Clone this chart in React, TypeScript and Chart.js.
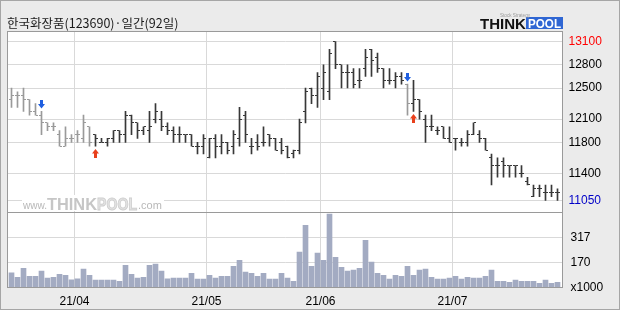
import React, { useEffect, useRef } from "react";
import { Chart, registerables } from "chart.js";

Chart.register(...registerables);

const TITLE = "한국화장품(123690)·일간(92일)";

const dates = [
  "21/03/17", "21/03/18", "21/03/19", "21/03/22", "21/03/23", "21/03/24", "21/03/25", "21/03/26", "21/03/29", "21/03/30",
  "21/03/31", "21/04/01", "21/04/02", "21/04/05", "21/04/06", "21/04/07", "21/04/08", "21/04/09", "21/04/12", "21/04/13",
  "21/04/14", "21/04/15", "21/04/16", "21/04/19", "21/04/20", "21/04/21", "21/04/22", "21/04/23", "21/04/26", "21/04/27",
  "21/04/28", "21/04/29", "21/04/30", "21/05/03", "21/05/04", "21/05/06", "21/05/07", "21/05/10", "21/05/11", "21/05/12",
  "21/05/13", "21/05/14", "21/05/17", "21/05/18", "21/05/20", "21/05/21", "21/05/24", "21/05/25", "21/05/26", "21/05/27",
  "21/05/28", "21/05/31", "21/06/01", "21/06/02", "21/06/03", "21/06/04", "21/06/07", "21/06/08", "21/06/09", "21/06/10",
  "21/06/11", "21/06/14", "21/06/15", "21/06/16", "21/06/17", "21/06/18", "21/06/21", "21/06/22", "21/06/23", "21/06/24",
  "21/06/25", "21/06/28", "21/06/29", "21/06/30", "21/07/01", "21/07/02", "21/07/05", "21/07/06", "21/07/07", "21/07/08",
  "21/07/09", "21/07/12", "21/07/13", "21/07/14", "21/07/15", "21/07/16", "21/07/19", "21/07/20", "21/07/21", "21/07/22",
  "21/07/23", "21/07/26",
];

const opens = [
  12350, 12400, 12400, 12350, 12200, 12150, 12050, 12000, 11900, 11750,
  11850, 11900, 11850, 12000, 11900, 11800, 11800, 11850, 11950, 11900,
  12150, 12050, 11950, 11950, 12100, 12100, 12000, 11950, 11900, 11900,
  11900, 11750, 11750, 11600, 11850, 11750, 11800, 11750, 11850, 12150,
  11750, 11800, 11800, 11900, 11850, 11800, 11750, 11650, 11700, 12200,
  12500, 12400, 12500, 12450, 13100, 12800, 12700, 12700, 12600, 12750,
  13000, 12900, 12750, 12600, 12600, 12650, 12550, 12300, 12350, 12100,
  12000, 11950, 12000, 11850, 11850, 11800, 11800, 11900, 11900, 11850,
  11600, 11500, 11550, 11500, 11500, 11400, 11300, 11100, 11200, 11150,
  11150, 11150,
];

const highs = [
  12500, 12450, 12500, 12350, 12300, 12200, 12050, 12050, 11950, 12000,
  11900, 11950, 12150, 12000, 11900, 11850, 11850, 11950, 11950, 12200,
  12150, 12050, 12000, 12200, 12300, 12200, 12050, 12000, 12000, 11900,
  11900, 11800, 11900, 11850, 11900, 11900, 11800, 11950, 12250, 12200,
  11850, 11900, 12000, 11900, 11850, 11850, 11750, 11700, 12100, 12500,
  12500, 12700, 12800, 13000, 13100, 12800, 12800, 12750, 12750, 13000,
  13000, 12950, 12750, 12750, 12700, 12700, 12550, 12600, 12350, 12150,
  12150, 12000, 12000, 12000, 11850, 11850, 11950, 12050, 11950, 11850,
  11650, 11600, 11600, 11500, 11500, 11500, 11350, 11250, 11250, 11250,
  11250, 11200,
];

const lows = [
  12250, 12250, 12200, 12150, 12150, 11900, 11950, 11950, 11750, 11750,
  11800, 11800, 11800, 11750, 11750, 11800, 11750, 11800, 11800, 11800,
  11900, 11850, 11900, 11800, 12050, 11950, 11900, 11800, 11800, 11800,
  11750, 11650, 11650, 11600, 11600, 11650, 11650, 11650, 11750, 11800,
  11650, 11700, 11750, 11750, 11700, 11650, 11600, 11600, 11650, 12050,
  12300, 12250, 12350, 12350, 12750, 12500, 12500, 12500, 12500, 12650,
  12650, 12700, 12500, 12550, 12500, 12550, 12150, 12200, 12100, 11800,
  11950, 11900, 11850, 11800, 11700, 11750, 11750, 11900, 11800, 11700,
  11250, 11350, 11350, 11350, 11350, 11350, 11250, 11100, 11100, 11050,
  11100, 11050,
];

const closes = [
  12400, 12400, 12350, 12200, 12150, 12050, 12000, 12000, 11750, 11850,
  11850, 11900, 12050, 11800, 11850, 11800, 11850, 11950, 11900, 12150,
  12050, 11950, 12000, 12000, 12200, 12000, 11950, 11900, 11900, 11900,
  11750, 11750, 11850, 11850, 11750, 11800, 11700, 11900, 12100, 11900,
  11750, 11750, 11800, 11850, 11700, 11700, 11600, 11700, 12050, 12450,
  12400, 12650, 12700, 12950, 12800, 12700, 12700, 12550, 12600, 12900,
  12850, 12750, 12600, 12600, 12650, 12600, 12300, 12350, 12200, 12000,
  12000, 11950, 11850, 11800, 11850, 11800, 11900, 12050, 11850, 11700,
  11500, 11500, 11500, 11500, 11500, 11400, 11250, 11200, 11200, 11150,
  11150, 11150,
];

// volume in thousands of shares
const volumes = [
  109, 83, 136, 89, 89, 119, 79, 83, 101, 95,
  68, 74, 131, 95, 66, 66, 66, 66, 60, 154,
  101, 78, 83, 154, 160, 119, 74, 78, 78, 78,
  107, 72, 72, 95, 78, 89, 89, 148, 183, 113,
  107, 89, 107, 72, 72, 107, 78, 60, 231, 389,
  148, 225, 183, 454, 201, 142, 119, 125, 136, 301,
  172, 107, 95, 72, 95, 89, 148, 95, 125, 131,
  83, 72, 72, 78, 89, 72, 83, 78, 78, 89,
  125, 60, 60, 54, 66, 60, 60, 60, 48, 66,
  48, 54,
];

const priceTicks = [11050, 11400, 11800, 12100, 12500, 12800, 13100];
const volumeTicks = [170, 317];
const volumeUnit = "x1000";
const sellSignals = [5, 66];
const buySignals = [14, 67];

// ---- layout / style constants ----
const W = 620;
const H = 310;
const PLOT_L = 7.5;
const PLOT_R = 562.5;
const PLOT_T = 31.5;
const PLOT_B = 287.5;
const SPLIT_Y = 212.5;
const PRICE_MIN = 9928;
const PRICE_MAX = 13229;
const VOL_MIN = 23;
const VOL_MAX = 1528;

const GRAY_BAR = "#9a9a9a";
const DARK_BAR = "#383838";
const VOL_COLOR = "#a3abc2";
const GRID = "#d9d9d9";
const FRAME = "#9a9a9a";
const BG = "#ebebeb";
const FONT = "'Liberation Sans', Arial, sans-serif";

const barTone = (() => {
  let sell = true;
  return dates.map((_, i) => {
    if (sellSignals.includes(i)) sell = true;
    if (buySignals.includes(i)) sell = false;
    return sell ? GRAY_BAR : DARK_BAR;
  });
})();

const monthTicks: { value: number; label: string }[] = [];
for (let i = 1; i < dates.length; i++) {
  const m = dates[i].slice(0, 5);
  if (m !== dates[i - 1].slice(0, 5)) monthTicks.push({ value: i - 0.5, label: m });
}

function drawArrow(ctx: CanvasRenderingContext2D, x: number, top: number, down: boolean, color: string) {
  ctx.fillStyle = color;
  ctx.beginPath();
  if (down) {
    ctx.rect(x - 1.5, top, 3, 5);
    ctx.moveTo(x - 3.5, top + 4);
    ctx.lineTo(x + 3.5, top + 4);
    ctx.lineTo(x, top + 8.5);
    ctx.closePath();
  } else {
    ctx.moveTo(x, top);
    ctx.lineTo(x + 3.5, top + 4.5);
    ctx.lineTo(x - 3.5, top + 4.5);
    ctx.closePath();
    ctx.rect(x - 1.5, top + 4, 3, 5);
  }
  ctx.fill();
}

const decorPlugin = {
  id: "decor",
  afterLayout(chart: any) {
    // let the volume axis share the label column of the price axis
    const y = chart.scales.y;
    const yv = chart.scales.yv;
    if (y && yv) {
      yv.left = y.left;
      yv.right = y.right;
      yv.width = y.width;
    }
  },
  beforeDraw(chart: any) {
    const { ctx, chartArea: a } = chart;
    ctx.save();
    ctx.fillStyle = BG;
    ctx.fillRect(0, 0, W, H);
    ctx.strokeStyle = "#a6a6a6";
    ctx.lineWidth = 1;
    ctx.strokeRect(0.5, 0.5, W - 1, H - 1);
    ctx.fillStyle = "#ffffff";
    ctx.fillRect(a.left, a.top, a.right - a.left, a.bottom - a.top);
    ctx.restore();
  },
  beforeDatasetsDraw(chart: any) {
    const { ctx } = chart;
    ctx.save();
    // watermark
    ctx.fillStyle = "#ffffff";
    ctx.fillRect(22, 195, 142, 16);
    ctx.textBaseline = "alphabetic";
    ctx.fillStyle = "#b8b8b8";
    ctx.font = `11px ${FONT}`;
    ctx.fillText("www.", 23, 209, 24);
    ctx.fillStyle = "#c6c6c6";
    ctx.font = `bold 17px ${FONT}`;
    ctx.fillText("THINK", 47, 210, 50);
    ctx.fillStyle = "#e4e4e4";
    ctx.strokeStyle = "#cfcfcf";
    ctx.lineWidth = 1;
    ctx.fillText("POOL", 97, 210, 40);
    ctx.strokeText("POOL", 97, 210, 40);
    ctx.fillStyle = "#b8b8b8";
    ctx.font = `11px ${FONT}`;
    ctx.fillText(".com", 138, 209, 25);
    ctx.restore();
  },
  afterDatasetsDraw(chart: any) {
    const { ctx } = chart;
    const xs = chart.scales.x;
    const ys = chart.scales.y;
    ctx.save();
    for (let i = 0; i < dates.length; i++) {
      const x = xs.getPixelForValue(i);
      ctx.fillStyle = barTone[i];
      const yo = Math.floor(ys.getPixelForValue(opens[i]));
      const yc = Math.floor(ys.getPixelForValue(closes[i]));
      ctx.fillRect(x - 2.5, yo, 2, 1);
      ctx.fillRect(x + 0.5, yc, 2, 1);
    }
    sellSignals.forEach((i) => {
      const x = xs.getPixelForValue(i);
      const yh = ys.getPixelForValue(highs[i]);
      drawArrow(ctx, x, Math.round(yh - 11), true, "#1f5fe0");
    });
    buySignals.forEach((i) => {
      const x = xs.getPixelForValue(i);
      const yl = ys.getPixelForValue(lows[i]);
      drawArrow(ctx, x, Math.round(yl + 3), false, "#e8401c");
    });
    ctx.restore();
  },
  afterDraw(chart: any) {
    const { ctx, chartArea: a } = chart;
    ctx.save();
    ctx.strokeStyle = FRAME;
    ctx.lineWidth = 1;
    ctx.strokeRect(a.left, a.top, a.right - a.left, a.bottom - a.top);
    ctx.beginPath();
    ctx.moveTo(a.left, SPLIT_Y);
    ctx.lineTo(a.right, SPLIT_Y);
    ctx.stroke();

    // title
    ctx.fillStyle = "#1a1a1a";
    ctx.textBaseline = "middle";
    ctx.font = "12.5px 'Noto Sans CJK KR', sans-serif";
    ctx.fillText(TITLE, 7, 23);

    // logo
    ctx.textBaseline = "alphabetic";
    ctx.fillStyle = "#111111";
    ctx.font = `bold 15px ${FONT}`;
    ctx.fillText("THINK", 480, 29, 46);
    ctx.fillStyle = "#2f66d3";
    ctx.fillRect(526, 17, 37, 12);
    ctx.fillStyle = "#ffffff";
    ctx.font = `bold 13px ${FONT}`;
    ctx.fillText("POOL", 528, 28, 33);
    ctx.fillStyle = "#9a9a9a";
    ctx.font = `5px ${FONT}`;
    ctx.fillText("Stock Strategy", 500, 17, 30);
    ctx.restore();
  },
};

export default function App() {
  const ref = useRef<HTMLCanvasElement | null>(null);

  useEffect(() => {
    if (!ref.current) return;
    Chart.defaults.font.family = FONT;
    const chart = new Chart(ref.current, {
      type: "bar",
      data: {
        datasets: [
          {
            label: "고가-저가",
            data: dates.map((_, i) => ({ x: i, y: [lows[i], highs[i]] })) as any,
            yAxisID: "y",
            backgroundColor: barTone,
            barThickness: 1,
            grouped: false,
            borderWidth: 0,
          },
          {
            label: "거래량",
            data: dates.map((_, i) => ({ x: i, y: volumes[i] })) as any,
            yAxisID: "yv",
            backgroundColor: VOL_COLOR,
            barThickness: 5,
            grouped: false,
            borderWidth: 0,
          },
        ],
      },
      options: {
        responsive: false,
        animation: false,
        devicePixelRatio: 1,
        layout: { padding: { left: PLOT_L, top: PLOT_T, right: 0, bottom: 0 } },
        plugins: {
          legend: { display: false },
          tooltip: { enabled: false },
          title: { display: false },
        },
        scales: {
          x: {
            type: "linear",
            bounds: "data",
            offset: false,
            min: -2 / 3,
            max: dates.length - 1 + 5 / 6,
            position: "bottom",
            afterBuildTicks: (s: any) => {
              s.ticks = monthTicks.map((t) => ({ value: t.value }));
            },
            afterFit: (s: any) => {
              s.height = H - PLOT_B;
              s.paddingLeft = 0;
              s.paddingRight = 0;
            },
            grid: { color: GRID, drawTicks: false, lineWidth: 1, offset: false },
            border: { display: false },
            ticks: {
              autoSkip: false,
              maxRotation: 0,
              padding: 7,
              color: "#000000",
              font: { size: 12, family: FONT },
              callback: (v: any) => {
                const t = monthTicks.find((m) => m.value === v);
                return t ? t.label : "";
              },
            },
          },
          y: {
            type: "linear",
            position: "right",
            weight: 1,
            bounds: "data",
            min: PRICE_MIN,
            max: PRICE_MAX,
            afterBuildTicks: (s: any) => {
              s.ticks = priceTicks.map((v) => ({ value: v }));
            },
            afterFit: (s: any) => {
              s.width = W - PLOT_R;
              s.paddingTop = 0;
              s.paddingBottom = 0;
            },
            grid: { color: GRID, drawTicks: false, lineWidth: 1 },
            border: { display: false },
            ticks: {
              padding: 6,
              font: { size: 12, family: FONT },
              color: (c: any) =>
                c.tick && c.tick.value === Math.max(...priceTicks)
                  ? "#ff0000"
                  : c.tick && c.tick.value === Math.min(...priceTicks)
                  ? "#0000c8"
                  : "#000000",
              callback: (v: any) => String(v),
            },
          },
          yv: {
            type: "linear",
            position: "right",
            weight: 0,
            bounds: "data",
            min: VOL_MIN,
            max: VOL_MAX,
            afterBuildTicks: (s: any) => {
              s.ticks = [{ value: VOL_MIN }, ...volumeTicks.map((v) => ({ value: v }))];
            },
            afterFit: (s: any) => {
              s.width = 0;
              s.paddingTop = 0;
              s.paddingBottom = 0;
            },
            grid: {
              drawTicks: false,
              lineWidth: 1,
              color: (c: any) => (c.tick && c.tick.value === VOL_MIN ? "rgba(0,0,0,0)" : GRID),
            },
            border: { display: false },
            ticks: {
              padding: 8,
              font: { size: 12, family: FONT },
              color: "#000000",
              callback: (v: any) => (v === VOL_MIN ? volumeUnit : String(v)),
            },
          },
        },
      } as any,
      plugins: [decorPlugin],
    });
    return () => chart.destroy();
  }, []);

  return (
    <div style={{ position: "absolute", left: 0, top: 0, width: W, height: H }}>
      <canvas ref={ref} width={W} height={H} style={{ display: "block", width: W, height: H }} />
    </div>
  );
}
